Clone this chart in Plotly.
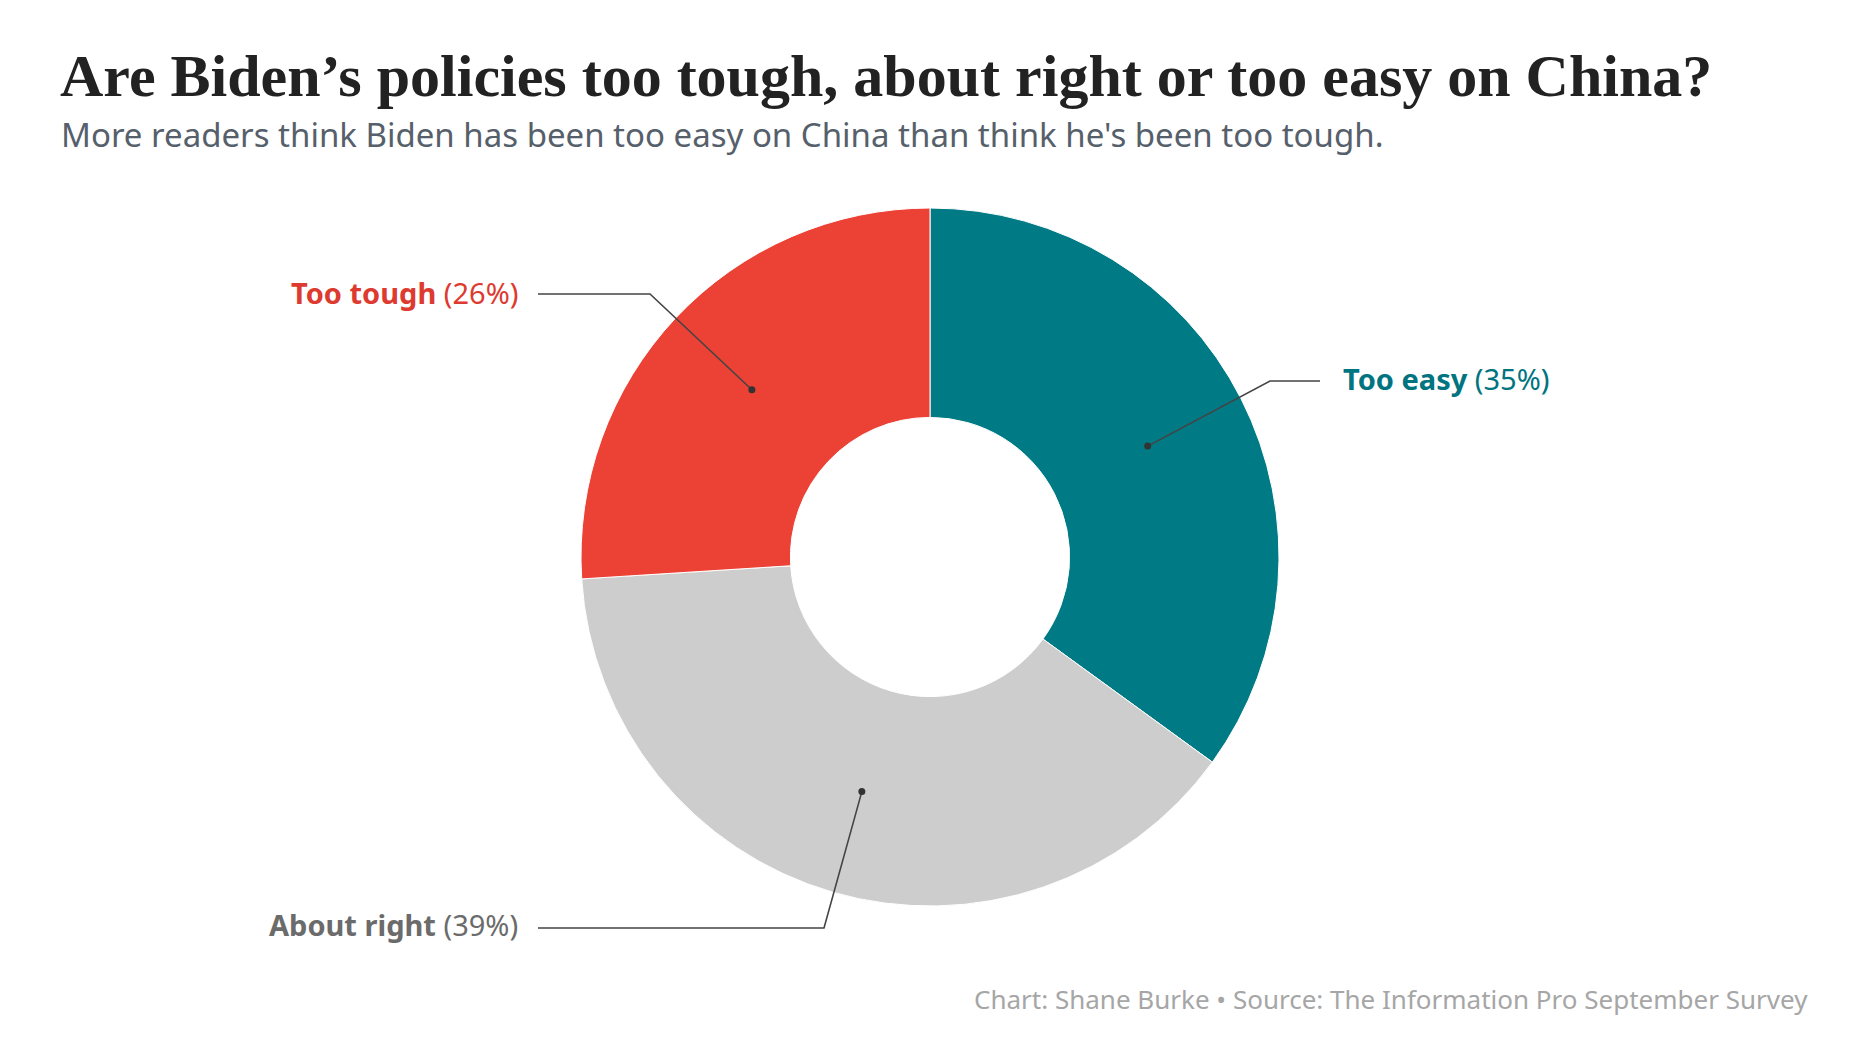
import math
import plotly.graph_objects as go

# chart data
labels = ["Too easy", "About right", "Too tough"]
values = [35, 39, 26]
slice_colors = ["#007b86", "#cdcdcd", "#ec4236"]
text_colors = ["#00747f", "#6b6b6b", "#dd3a30"]

title = "Are Biden’s policies too tough, about right or too easy on China?"
subtitle = "More readers think Biden has been too easy on China than think he's been too tough."
credit = "Chart: Shane Burke • Source: The Information Pro September Survey"

W, H = 1860, 1046
OX, OY = -10, -10           # page offset correction
cx, cy, R = 932, 559, 349   # donut centre / radius in pixels
HOLE = 0.4

# label placement (pixels): elbow of the leader line, end of line, text anchor
label_pos = {
    "Too easy": dict(elbow=(1272, 383), end=(1322, 383), text=(1343, 381), anchor="left"),
    "About right": dict(elbow=(826, 930), end=(540, 930), text=(522, 926), anchor="right"),
    "Too tough": dict(elbow=(652, 296), end=(540, 296), text=(522, 294), anchor="right"),
}


def px(x):
    return (x + OX) / W


def py(y):
    return 1 - (y + OY) / H


fig = go.Figure(go.Pie(
    labels=labels, values=values, sort=False, direction="clockwise", rotation=0,
    hole=HOLE, textinfo="none", hoverinfo="label+percent",
    marker=dict(colors=slice_colors, line=dict(color="white", width=1)),
    domain=dict(x=[px(cx - R), px(cx + R)], y=[py(cy + R), py(cy - R)]),
    showlegend=False,
))

shapes = []
annotations = []
total = sum(values)
cum = 0
for lab, val, tcol in zip(labels, values, text_colors):
    mid = (cum + val / 2) / total * 2 * math.pi
    cum += val
    r = R * (1 + HOLE) / 2
    dx, dy = cx + r * math.sin(mid), cy - r * math.cos(mid)
    p = label_pos[lab]
    (ex, ey), (lx, ly) = p["elbow"], p["end"]
    shapes.append(dict(
        type="path", xref="paper", yref="paper", layer="above",
        path=f"M {px(dx)},{py(dy)} L {px(ex)},{py(ey)} L {px(lx)},{py(ly)}",
        line=dict(color="#444444", width=1.6),
    ))
    shapes.append(dict(
        type="circle", xref="paper", yref="paper", layer="above",
        x0=px(dx - 3.5), x1=px(dx + 3.5), y0=py(dy + 3.5), y1=py(dy - 3.5),
        fillcolor="#333333", line=dict(width=0),
    ))
    tx, ty = p["text"]
    annotations.append(dict(
        xref="paper", yref="paper", x=px(tx), y=py(ty), xanchor=p["anchor"], yanchor="middle",
        text=f"<b>{lab}</b> ({val}%)", showarrow=False,
        font=dict(family="Noto Sans", size=29, color=tcol),
    ))

annotations += [
    dict(xref="paper", yref="paper", x=px(60), y=py(78), xanchor="left", yanchor="middle",
         text=f"<b>{title}</b>", showarrow=False,
         font=dict(family="Liberation Serif", size=60, color="#222222")),
    dict(xref="paper", yref="paper", x=px(61), y=py(136), xanchor="left", yanchor="middle",
         text=subtitle, showarrow=False,
         font=dict(family="Noto Sans", size=33, color="#56606b")),
    dict(xref="paper", yref="paper", x=px(1812), y=py(1001), xanchor="right", yanchor="middle",
         text=credit, showarrow=False,
         font=dict(family="Noto Sans", size=26, color="#a6a6a6")),
]

fig.update_layout(
    width=W, height=H, autosize=False,
    margin=dict(l=0, r=0, t=0, b=0),
    paper_bgcolor="white", plot_bgcolor="white",
    shapes=shapes, annotations=annotations,
)

fig.write_html("out.html")
